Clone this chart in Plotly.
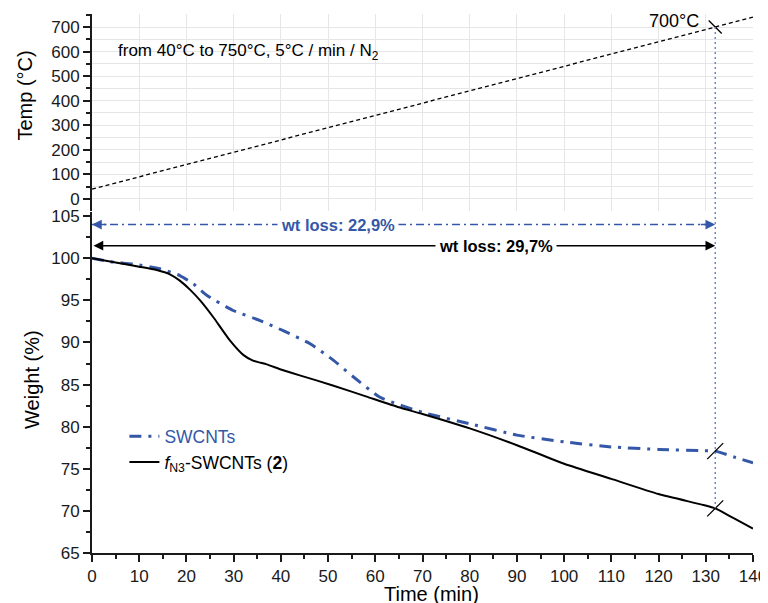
import numpy as np
import plotly.graph_objects as go

# ---------------- data ----------------
t_temp = [0, 140]
temp_c = [40, 740]

t_swcnt = [0, 3.8, 8.8, 14.4, 18.6, 21.5, 24.3, 29.9, 35.6, 40.5, 46.2, 51.1, 55.4,
           61, 70, 80, 90, 100, 110, 120, 129.5, 132, 136, 140]
w_swcnt = [100, 99.6, 99.3, 98.75, 97.95, 96.95, 95.6, 93.8, 92.6, 91.4, 89.85, 87.9, 85.9,
           83.5, 81.7, 80.35, 79.0, 78.2, 77.6, 77.3, 77.15, 77.1, 76.4, 75.7]

t_fn3 = [0, 5, 10, 13.7, 16.5, 18.6, 20.8, 22.9, 25.7, 29.2, 32.1, 34.1, 37, 40, 44, 51,
         58, 65, 70, 80, 90, 100, 110, 120, 129.5, 132, 136, 140]
w_fn3 = [100, 99.5, 99.0, 98.6, 98.1, 97.35, 96.25, 95.0, 93.0, 90.25, 88.5, 87.85, 87.4, 86.8, 86.1, 84.9,
         83.6, 82.3, 81.5, 79.8, 77.8, 75.6, 73.8, 72.0, 70.7, 70.3, 69.1, 67.9]

name_swcnt = "SWCNTs"
name_fn3 = "<i>f</i><sub>N3</sub>-SWCNTs (<b>2</b>)"
temp_note = "from 40°C to 750°C, 5°C / min / N<sub>2</sub>"
end_temp = 700
loss_swcnt_txt = "wt loss: 22,9%"
loss_fn3_txt = "wt loss: 29,7%"

x_ticks = list(range(0, 141, 10))
wt_ticks = list(range(65, 106, 5))
temp_ticks = list(range(0, 701, 100))

# ---------------- styles ----------------
BLUE = "#3557a7"
BLUE_LIGHT = "#5078c8"
FONT = "Liberation Sans, Arial, sans-serif"
AX = "#1a1a1a"

t700 = float(np.interp(end_temp, temp_c, t_temp))
w_sw_700 = float(np.interp(t700, t_swcnt, w_swcnt))
w_fn_700 = float(np.interp(t700, t_fn3, w_fn3))

y_top_range = [-49, 753]
y_bot_range = [65, 105.5]
lvl_blue = 104
lvl_black = 101.5

fig = go.Figure()

# temperature ramp (top panel)
fig.add_trace(go.Scatter(x=t_temp, y=temp_c, xaxis="x2", yaxis="y2", mode="lines",
                         line=dict(color="black", width=1.3, dash="4px,3px"),
                         showlegend=False, hoverinfo="skip"))

# weight curves
fig.add_trace(go.Scatter(x=t_swcnt, y=w_swcnt, mode="lines", name=f'<span style="color:{BLUE}">{name_swcnt}</span>',
                         line=dict(color=BLUE, width=3, dash="12px,7px,3px,7px", shape="spline", smoothing=0.5)))
fig.add_trace(go.Scatter(x=t_fn3, y=w_fn3, mode="lines", name=name_fn3,
                         line=dict(color="black", width=2, shape="spline", smoothing=0.5)))

# blue dash-dot arrow shaft
fig.add_trace(go.Scatter(x=[0, t700], y=[lvl_blue, lvl_blue], mode="lines",
                         line=dict(color=BLUE, width=1.5, dash="8px,4px,2px,4px"),
                         showlegend=False, hoverinfo="skip"))

# break marks
fig.add_trace(go.Scatter(x=[t700, t700], y=[w_sw_700, w_fn_700], mode="markers",
                         marker=dict(symbol="line-ne", size=16, line=dict(width=1.3, color="black")),
                         showlegend=False, hoverinfo="skip"))
fig.add_trace(go.Scatter(x=[t700], y=[end_temp], xaxis="x2", yaxis="y2", mode="markers",
                         marker=dict(symbol="line-nw", size=13, line=dict(width=1.3, color="black")),
                         showlegend=False, hoverinfo="skip"))

shapes = [
    dict(type="line", xref="x2", yref="y2", x0=t700, x1=t700, y0=end_temp, y1=y_top_range[0],
         line=dict(color=BLUE_LIGHT, width=1.3, dash="2px,3px"), layer="above"),
    dict(type="line", xref="x", yref="y", x0=t700, x1=t700, y0=y_bot_range[1], y1=w_fn_700,
         line=dict(color=BLUE_LIGHT, width=1.3, dash="2px,3px"), layer="above"),
]

annotations = [
    # black double arrow
    dict(x=t700, y=lvl_black, ax=0, ay=lvl_black, xref="x", yref="y", axref="x", ayref="y",
         text="", showarrow=True, arrowhead=2, arrowside="end+start", arrowwidth=1.5,
         arrowsize=1.3, arrowcolor="black", standoff=0, startstandoff=0),
    # blue arrow heads
    dict(x=0, y=lvl_blue, ax=16, ay=0, xref="x", yref="y", text="", showarrow=True,
         arrowhead=2, arrowwidth=1.5, arrowsize=1.3, arrowcolor=BLUE),
    dict(x=t700, y=lvl_blue, ax=-16, ay=0, xref="x", yref="y", text="", showarrow=True,
         arrowhead=2, arrowwidth=1.5, arrowsize=1.3, arrowcolor=BLUE),
    # labels
    dict(x=52, y=lvl_blue, xref="x", yref="y", text=f"<b>{loss_swcnt_txt}</b>", showarrow=False,
         bgcolor="white", borderpad=3, font=dict(family=FONT, size=16.5, color=BLUE)),
    dict(x=85.6, y=lvl_black, xref="x", yref="y", text=f"<b>{loss_fn3_txt}</b>", showarrow=False,
         bgcolor="white", borderpad=3, font=dict(family=FONT, size=16.5, color="black")),
    dict(x=5, y=600, xref="x2", yref="y2", xanchor="left", yanchor="middle", text=temp_note,
         showarrow=False, font=dict(family=FONT, size=17, color="black")),
    dict(x=t700, y=end_temp, xref="x2", yref="y2", xanchor="right", yanchor="middle",
         xshift=-14, yshift=6, text=f"{end_temp}°C", showarrow=False,
         font=dict(family=FONT, size=18, color="black")),
    # axis titles
    dict(x=0.514, y=-0.0935, xref="paper", yref="paper", text="Time (min)", showarrow=False,
         xanchor="center", yanchor="bottom", yshift=-4, font=dict(family=FONT, size=20, color="black")),
    dict(x=-0.102, y=0.848, xref="paper", yref="paper", text="Temp (°C)", showarrow=False,
         textangle=-90, xanchor="center", yanchor="middle", font=dict(family=FONT, size=20, color="black")),
    dict(x=-0.09, y=0.322, xref="paper", yref="paper", text="Weight (%)", showarrow=False,
         textangle=-90, xanchor="center", yanchor="middle", font=dict(family=FONT, size=20, color="black")),
]

tickfont = dict(family=FONT, size=17, color=AX)

# the page body adds an 8px offset, so the figure is 8px smaller than the window on each axis
fig.update_layout(
    template="none",
    width=760, height=595,
    margin=dict(l=84, r=15, t=6, b=50),
    paper_bgcolor="white", plot_bgcolor="white",
    font=dict(family=FONT, color="black"),
    shapes=shapes, annotations=annotations,
    showlegend=True,
    legend=dict(x=0.049, y=0.25, xanchor="left", yanchor="top", bgcolor="rgba(0,0,0,0)",
                font=dict(family=FONT, size=17.5, color="black"), tracegroupgap=0),
    xaxis=dict(domain=[0, 1], range=[0, 140], anchor="y", tickvals=x_ticks, automargin=False,
               ticks="outside", ticklen=7, tickwidth=1.5, tickcolor=AX, ticklabeloverflow="allow",
               minor=dict(dtick=5, tick0=0, ticks="outside", ticklen=4, tickwidth=1.5, tickcolor=AX),
               showline=True, linecolor=AX, linewidth=2, showgrid=False, zeroline=False,
               tickfont=tickfont),
    xaxis2=dict(domain=[0, 1], range=[0, 140], anchor="y2", matches="x", tickvals=x_ticks,
                automargin=False,
                showticklabels=False, ticks="", showline=False, showgrid=True,
                gridcolor="#e6e6e6", gridwidth=1, zeroline=False),
    yaxis=dict(domain=[0, 0.6327], range=y_bot_range, anchor="x", tickvals=wt_ticks, automargin=False,
               ticks="outside", ticklen=7, tickwidth=1.5, tickcolor=AX,
               minor=dict(dtick=2.5, tick0=0, ticks="outside", ticklen=4, tickwidth=1.5, tickcolor=AX),
               showline=True, linecolor=AX, linewidth=2, showgrid=False, zeroline=False,
               tickfont=tickfont),
    yaxis2=dict(domain=[0.6346, 1], range=y_top_range, anchor="x2", tickvals=temp_ticks, automargin=False,
                ticks="outside", ticklen=7, tickwidth=1.5, tickcolor=AX,
                minor=dict(dtick=50, tick0=0, ticks="outside", ticklen=4, tickwidth=1.5, tickcolor=AX,
                           showgrid=True, gridcolor="#e6e6e6"),
                showline=True, linecolor=AX, linewidth=2, showgrid=True, gridcolor="#e6e6e6",
                zeroline=False, tickfont=tickfont),
)

fig.write_html("out.html")
